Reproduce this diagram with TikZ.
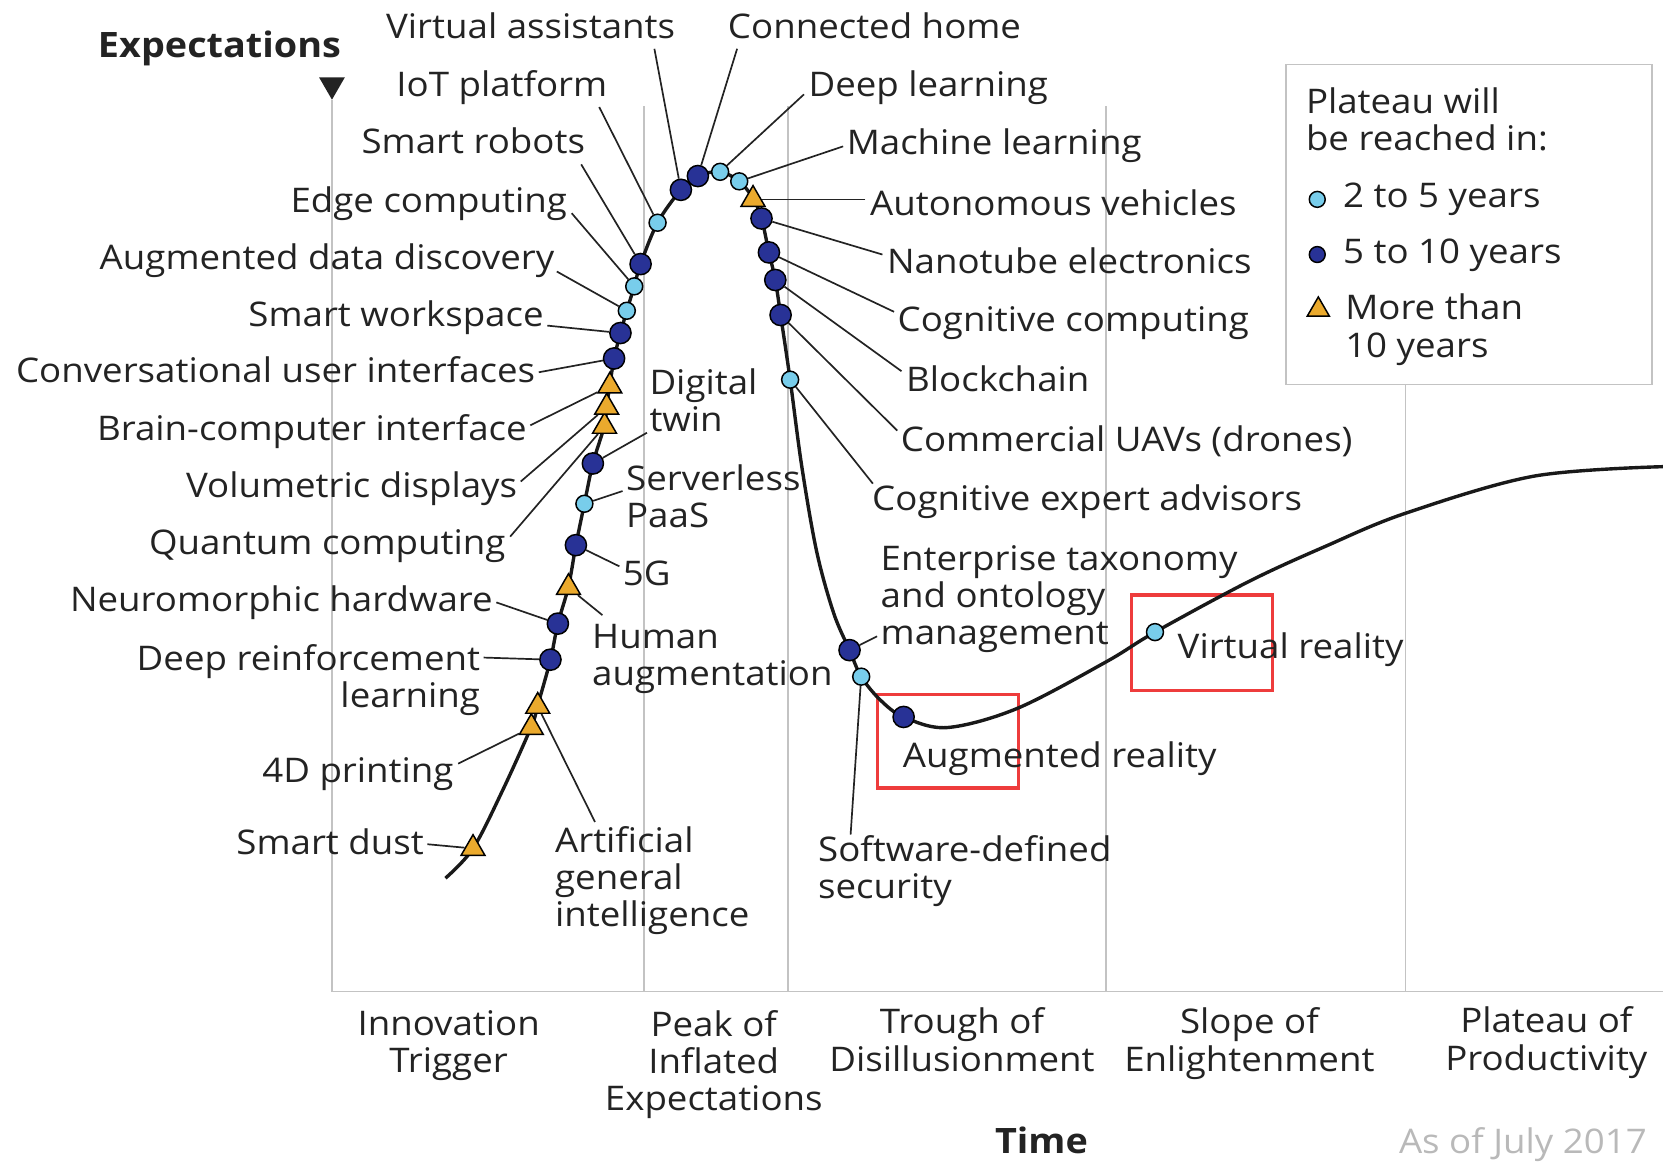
\documentclass[tikz,border=0pt]{standalone}
\usepackage{fontspec}
\setmainfont{Open Sans}[FakeStretch=1.08]
\usetikzlibrary{shapes.geometric}
\definecolor{txt}{RGB}{35,35,35}
\definecolor{lightm}{RGB}{120,205,235}
\definecolor{darkm}{RGB}{40,50,150}
\definecolor{trim}{RGB}{235,170,45}
\definecolor{boxred}{RGB}{238,60,60}
\definecolor{gridc}{RGB}{195,195,195}
\begin{document}
\begin{tikzpicture}[x=0.5pt,y=-0.5pt,
  lbl/.style={inner sep=0pt, text=txt, font=\fontsize{16}{17.5}\selectfont},
  lw/.style={lbl, anchor=base west},
  le/.style={lbl, anchor=base east},
  mlw/.style={lbl, anchor=north west, align=left},
  mle/.style={lbl, anchor=north east, align=right},
  mlc/.style={lbl, anchor=north, align=center},
  lead/.style={draw=txt, line width=0.8pt},
  hype/.style={draw=black!90, line width=1.6pt},
  gridline/.style={draw=gridc, line width=0.7pt},
  redbox/.style={draw=boxred, line width=1.5pt},
  mlight/.style={circle, draw=black, line width=0.7pt, fill=lightm, minimum size=8pt, inner sep=0pt},
  mdark/.style={circle, draw=black, line width=0.7pt, fill=darkm, minimum size=10pt, inner sep=0pt},
  mtri/.style={regular polygon, regular polygon sides=3, draw=black, line width=0.7pt, fill=trim, minimum size=13pt, inner sep=0pt},
]
\useasboundingbox (0,0) rectangle (1568,1096);

% grid and axes
\draw[gridline] (313,94) -- (313,935) -- (1568,935);
\foreach \gx in {607,743,1043,1325} \draw[gridline] (\gx,100) -- (\gx,935);
\node[regular polygon, regular polygon sides=3, shape border rotate=180, fill=txt, minimum size=14pt, inner sep=0pt] (arrowtip) at (313,80) {};
\node[lbl, anchor=base west, font=\fontsize{16.5}{18}\selectfont\bfseries] (expect) at (92,54) {Expectations};

% legend
\node[draw=gridc, line width=0.6pt, fill=white, minimum width=172.5pt, minimum height=151pt, inner sep=0pt, anchor=north west] (legend) at (1212,60) {};
\node[mlw] (legtitle) at (1231,82) {Plateau will\\be reached in:};
\node[mlight, minimum size=7.5pt] (leg1m) at (1242,188) {};
\node[lw] (leg1) at (1266,196) {2 to 5 years};
\node[mdark, minimum size=7.5pt] (leg2m) at (1242,240) {};
\node[lw] (leg2) at (1266,248) {5 to 10 years};
\node[mtri, minimum size=12pt] (leg3m) at (1243,292) {};
\node[mlw] (leg3) at (1268,277) {More than\\10 years};

% red boxes
\draw[redbox] (827,655) rectangle (960,743);
\draw[redbox] (1067,561) rectangle (1200,651);

% hype curve
\draw[hype] plot[smooth, tension=0.55] coordinates {
 (420,828) (446,800) (474,745) (501,685) (507,665) (519,622) (526,588) (536,553)
 (543,514) (551,475) (559,437) (570,401) (572,383) (575,363) (579,338) (585,314)
 (591,293) (598,270) (604,249) (620,210) (642,179) (658,166) (679,162) (697,171)
 (710,187) (718,206) (725,238) (731,264) (736,297) (745,358) (756,440) (770,520)
 (786,578) (801,613) (812,638) (830,660) (852,676) (893,686) (959,668) (1043,624)
 (1089,596) (1178,548) (1250,515) (1325,484) (1446,449) (1568,440)};

% markers
\node[mtri]   (m_sd)  at (446,800) {};
\node[mtri]   (m_d4)  at (501,686) {};
\node[mtri]   (m_agi) at (507,666) {};
\node[mdark]  (m_drl) at (519,622) {};
\node[mdark]  (m_nh)  at (526,588) {};
\node[mtri]   (m_ha)  at (536,554) {};
\node[mdark]  (m_5g)  at (543,514) {};
\node[mlight] (m_sp)  at (551,475) {};
\node[mdark]  (m_dt)  at (559,437) {};
\node[mtri]   (m_qc)  at (570,402) {};
\node[mtri]   (m_vd)  at (572,384) {};
\node[mtri]   (m_bci) at (575,364) {};
\node[mdark]  (m_cui) at (579,338) {};
\node[mdark]  (m_sw)  at (585,314) {};
\node[mlight] (m_add) at (591,293) {};
\node[mlight] (m_ec)  at (598,270) {};
\node[mdark]  (m_sr)  at (604,249) {};
\node[mlight] (m_iot) at (620,210) {};
\node[mdark]  (m_va)  at (642,179) {};
\node[mdark]  (m_ch)  at (658,166) {};
\node[mlight] (m_dl)  at (679,162) {};
\node[mlight] (m_ml)  at (697,171) {};
\node[mtri]   (m_av)  at (710,188) {};
\node[mdark]  (m_ne)  at (718,206) {};
\node[mdark]  (m_cc)  at (725,238) {};
\node[mdark]  (m_bc)  at (731,264) {};
\node[mdark]  (m_uav) at (736,297) {};
\node[mlight] (m_cea) at (745,358) {};
\node[mdark]  (m_et)  at (801,613) {};
\node[mlight] (m_sds) at (812,638) {};
\node[mdark]  (m_ar)  at (852,676) {};
\node[mlight] (m_vr)  at (1089,596) {};

% labels
\node[le] (l_va)  at (637,36)  {Virtual assistants};
\node[lw] (l_ch)  at (686,36)  {Connected home};
\node[le] (l_iot) at (573,91)  {IoT platform};
\node[lw] (l_dl)  at (762,91)  {Deep learning};
\node[le] (l_sr)  at (552,145) {Smart robots};
\node[lw] (l_ml)  at (798,146) {Machine learning};
\node[le] (l_ec)  at (535,200) {Edge computing};
\node[lw] (l_av)  at (820,203) {Autonomous vehicles};
\node[le] (l_add) at (523,254) {Augmented data discovery};
\node[lw] (l_ne)  at (836,258) {Nanotube electronics};
\node[le] (l_sw)  at (513,308) {Smart workspace};
\node[lw] (l_cc)  at (846,313) {Cognitive computing};
\node[le] (l_cui) at (505,361) {Conversational user interfaces};
\node[lw] (l_bc)  at (854,369) {Blockchain};
\node[le] (l_bci) at (497,415) {Brain-computer interface};
\node[lw] (l_uav) at (849,426) {Commercial UAVs (drones)};
\node[le] (l_vd)  at (488,469) {Volumetric displays};
\node[lw] (l_cea) at (822,481) {Cognitive expert advisors};
\node[le] (l_qc)  at (477,523) {Quantum computing};
\node[lw] (l_5g)  at (587,552) {5G};
\node[le] (l_nh)  at (465,577) {Neuromorphic hardware};
\node[lw] (l_vr)  at (1110,621) {Virtual reality};
\node[le] (l_d4)  at (428,738) {4D printing};
\node[lw] (l_ar)  at (851,724) {Augmented reality};
\node[le] (l_sd)  at (400,806) {Smart dust};
\node[mlw] (l_dt)  at (612,347) {Digital\\twin};
\node[mlw] (l_sp)  at (590,438) {Serverless\\PaaS};
\node[mlw] (l_et)  at (830,514) {Enterprise taxonomy\\and ontology\\management};
\node[mlw] (l_ha)  at (558,588) {Human\\augmentation};
\node[mle] (l_drl) at (453,607) {Deep reinforcement\\learning};
\node[mlw] (l_agi) at (523,779) {Artificial\\general\\intelligence};
\node[mlw] (l_sds) at (771,787) {Software-defined\\security};

% phases and axis titles
\node[mlc] (p1) at (423,952) {Innovation\\Trigger};
\node[mlc] (p2) at (673,952) {Peak of\\Inflated\\Expectations};
\node[mlc] (p3) at (907,950) {Trough of\\Disillusionment};
\node[mlc] (p4) at (1178,950) {Slope of\\Enlightenment};
\node[mlc] (p5) at (1458,949) {Plateau of\\Productivity};
\node[lbl, anchor=base, font=\fontsize{16.5}{18}\selectfont\bfseries] (time) at (982,1088) {Time};
\node[lbl, anchor=base east, text=gray!55] (asof) at (1553,1088) {As of July 2017};

% leader start points
\coordinate (c_va)  at (617,46);
\coordinate (c_ch)  at (695,46);
\coordinate (c_iot) at (565,101);
\coordinate (c_dl)  at (758,89);
\coordinate (c_sr)  at (548,155);
\coordinate (c_ml)  at (795,138);
\coordinate (c_ec)  at (539,201);
\coordinate (c_av)  at (816,188);
\coordinate (c_add) at (525,256);
\coordinate (c_ne)  at (832,240);
\coordinate (c_sw)  at (516,307);
\coordinate (c_cc)  at (843,294);
\coordinate (c_cui) at (508,351);
\coordinate (c_bc)  at (850,350);
\coordinate (c_bci) at (500,401);
\coordinate (c_uav) at (846,406);
\coordinate (c_vd)  at (491,454);
\coordinate (c_cea) at (823,456);
\coordinate (c_qc)  at (481,506);
\coordinate (c_dt)  at (610,408);
\coordinate (c_sp)  at (587,463);
\coordinate (c_5g)  at (584,534);
\coordinate (c_nh)  at (468,568);
\coordinate (c_ha)  at (568,580);
\coordinate (c_drl) at (456,620);
\coordinate (c_d4)  at (432,720);
\coordinate (c_agi) at (561,775);
\coordinate (c_sd)  at (403,796);
\coordinate (c_et)  at (827,600);
\coordinate (c_sds) at (802,787);

% leaders
\foreach \k in {va,ch,iot,dl,sr,ml,ec,av,add,ne,sw,cc,cui,bc,bci,uav,vd,cea,qc,dt,sp,5g,nh,ha,drl,d4,agi,sd,et,sds}
  \draw[lead] (c_\k) -- (m_\k);
\end{tikzpicture}
\end{document}
